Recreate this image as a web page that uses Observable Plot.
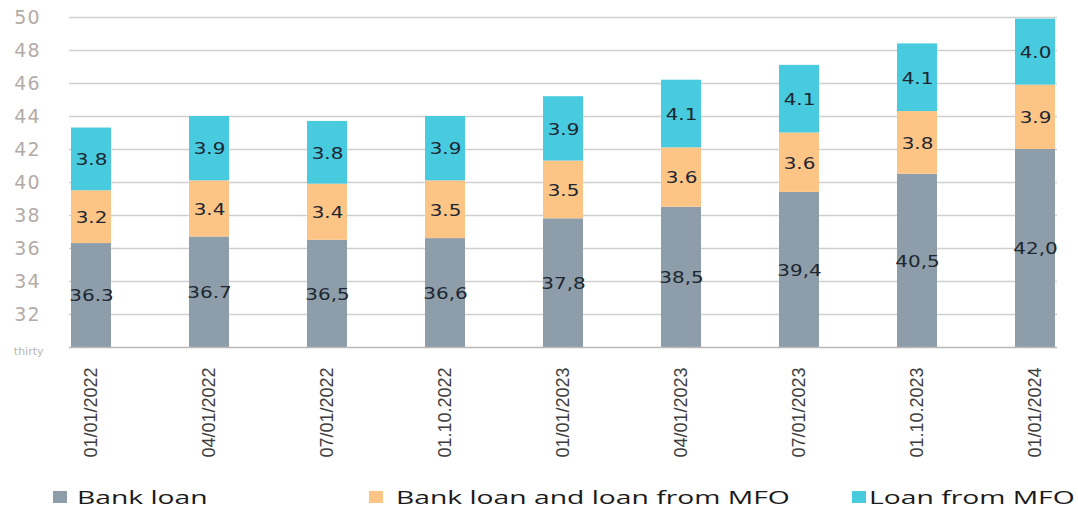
<!DOCTYPE html>
<html>
<head>
<meta charset="utf-8">
<script src="https://cdn.jsdelivr.net/npm/d3@7"></script>
<script src="https://cdn.jsdelivr.net/npm/@observablehq/plot@0.6"></script>
<style>
  html, body { margin: 0; padding: 0; background: #fff; }
  #wrap { position: relative; width: 1078px; height: 508px; overflow: hidden; }
  .yticks text { letter-spacing: 1px; }
  .sw { position: absolute; width: 14px; height: 12px; top: 491px; }
  .lt { position: absolute; top: 487.5px; font-family: "Open Sans", sans-serif; font-size: 18px; line-height: 18px;
        color: #1a1a1a; white-space: nowrap; transform: scaleX(1.57); transform-origin: 0 0; }
</style>
</head>
<body>
<div id="wrap"></div>
<script>
// ---- data ----
const dates = ["01/01/2022","04/01/2022","07/01/2022","01.10.2022","01/01/2023","04/01/2023","07/01/2023","01.10.2023","01/01/2024"];
const bankLoan = [36.3, 36.7, 36.5, 36.6, 37.8, 38.5, 39.4, 40.5, 42.0];
const bankAndMfo = [3.2, 3.4, 3.4, 3.5, 3.5, 3.6, 3.6, 3.8, 3.9];
const mfoLoan = [3.8, 3.9, 3.8, 3.9, 3.9, 4.1, 4.1, 4.1, 4.0];
const bankLoanLabels = ["36.3","36.7","36,5","36,6","37,8","38,5","39,4","40,5","42,0"];
const bankAndMfoLabels = ["3.2","3.4","3.4","3.5","3.5","3.6","3.6","3.8","3.9"];
const mfoLoanLabels = ["3.8","3.9","3.8","3.9","3.9","4.1","4.1","4.1","4.0"];
const seriesNames = ["Bank loan", "Bank loan and loan from MFO", "Loan from MFO"];
const seriesColors = ["#8e9daa", "#fdc585", "#48cadf"];
const yDomain = [30, 50];
const yTicks = [32, 34, 36, 38, 40, 42, 44, 46, 48, 50];
const yBottomLabel = ["thirty"];

// ---- build stacked rows (stack base = axis minimum) ----
const rows = [];
dates.forEach((d, i) => {
  const vals = [bankLoan[i], bankAndMfo[i], mfoLoan[i]];
  const labs = [bankLoanLabels[i], bankAndMfoLabels[i], mfoLoanLabels[i]];
  let top = 0;
  vals.forEach((v, k) => {
    const y1 = k === 0 ? yDomain[0] : top;
    const y2 = k === 0 ? v : top + v;
    rows.push({date: d, series: seriesNames[k], y1, y2, mid: (y1 + y2) / 2, label: labs[k]});
    top = y2;
  });
});

const chart = Plot.plot({
  width: 1078,
  height: 470,
  marginLeft: 69,
  marginRight: 21,
  marginTop: 17,
  marginBottom: 123,
  x: {domain: dates, paddingInner: 0.662, paddingOuter: 0, label: null},
  y: {domain: yDomain, label: null},
  color: {domain: seriesNames, range: seriesColors},
  style: {background: "transparent"},
  marks: [
    Plot.ruleY(yTicks, {stroke: "#d0d0d0", strokeWidth: 1.5}),
    Plot.barY(rows, {x: "date", y1: "y1", y2: "y2", fill: "series"}),
    Plot.ruleY([yDomain[0]], {stroke: "#b8b8b8", strokeWidth: 1.5}),
    Plot.text(rows, {x: "date", y: "mid", text: "label", fill: "#1d2731", fontSize: 15,
      fontFamily: "DejaVu Sans", dy: 1, className: "barlbl"}),
    Plot.axisY({ticks: yTicks, tickSize: 0, tickPadding: 29, fontSize: 19, fontFamily: "DejaVu Sans",
      fill: "#b3aba7", label: null, className: "yticks"}),
    Plot.axisY({ticks: [yDomain[0]], tickFormat: () => yBottomLabel[0], tickSize: 0, tickPadding: 26,
      fontSize: 11, fontFamily: "DejaVu Sans", fill: "#bcb6b3", dy: 4, label: null}),
    Plot.axisX({tickRotate: -90, tickSize: 0, tickPadding: 20, fontSize: 18, fontFamily: "Liberation Sans",
      fill: "#3d3d3d", label: null})
  ]
});

// widen the in-bar value labels horizontally, as in the reference
chart.querySelectorAll("g.barlbl > text").forEach(t => {
  const tr = t.getAttribute("transform") || "";
  t.setAttribute("transform", tr + " scale(1.33,1)");
});

const wrap = document.getElementById("wrap");
wrap.appendChild(chart);

// ---- legend ----
const legPos = [{sw: 53, tx: 77}, {sw: 369, tx: 396}, {sw: 852, tx: 869}];
seriesNames.forEach((name, k) => {
  const sw = document.createElement("div");
  sw.className = "sw";
  sw.style.left = legPos[k].sw + "px";
  sw.style.background = seriesColors[k];
  wrap.appendChild(sw);
  const t = document.createElement("div");
  t.className = "lt";
  t.style.left = legPos[k].tx + "px";
  t.textContent = name;
  wrap.appendChild(t);
});
</script>
</body>
</html>
